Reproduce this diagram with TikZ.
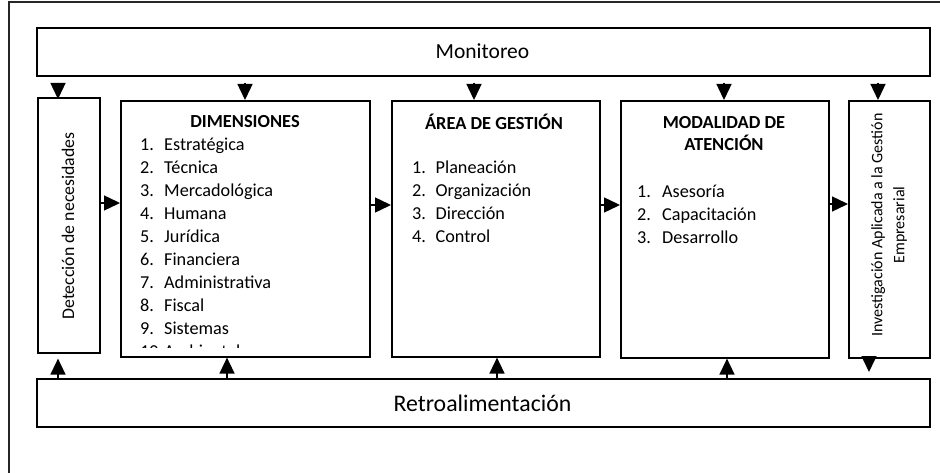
\documentclass[tikz,border=0pt]{standalone}
\usepackage{fontspec}
\setmainfont{Carlito}
\usetikzlibrary{arrows.meta}
\begin{document}
\begin{tikzpicture}[x=1pt,y=-1pt,
 box/.style={draw=black, line width=1.6pt, rectangle, inner sep=0pt, anchor=north west},
 arr/.style={line width=1.4pt, -{Triangle[length=16pt,width=15pt]}},
 item/.style={anchor=base west, inner sep=0pt, font=\fontsize{18.2}{22}\selectfont},
 head/.style={inner sep=0pt, font=\bfseries\fontsize{18.4}{22}\selectfont, align=center},
 plain/.style={inner sep=0pt}]
\useasboundingbox (0,0) rectangle (940,473);
\draw[line width=1.2pt, draw=black!85] (9,490) -- (9,2) -- (950,2);
% boxes
\node[box, minimum width=893pt, minimum height=48pt] (mon) at (36,27) {};
\node[box, minimum width=62pt, minimum height=255pt] (det) at (37,97) {};
\node[box, minimum width=249pt, minimum height=256pt] (dim) at (120,100) {};
\node[box, minimum width=208pt, minimum height=256pt] (area) at (391,100) {};
\node[box, minimum width=208pt, minimum height=257pt] (mod) at (620,100) {};
\node[box, minimum width=81pt, minimum height=257pt] (inv) at (848,100) {};
\node[box, minimum width=893pt, minimum height=48pt] (ret) at (36,378) {};
% texts
\node[plain, font=\fontsize{21.5}{24}\selectfont] (tmon) at (482.5,51) {Monitoreo};
\node[plain, font=\fontsize{23.8}{26}\selectfont] (tret) at (482.5,403) {Retroalimentación};
\node[plain, rotate=90, font=\fontsize{17.8}{20}\selectfont] (tdet) at (68,226) {Detección de necesidades};
\node[plain, rotate=90, align=center, font=\fontsize{16}{22}\selectfont] (tinv) at (889,225) {Investigación Aplicada a la Gestión\\Empresarial};
\node[head] (hdim) at (245,122) {DIMENSIONES};
\node[head] (harea) at (494,122) {ÁREA DE GESTIÓN};
\node[head] (hmod) at (724,134) {MODALIDAD DE\\ATENCIÓN};
\begin{scope}
\clip (120,100) rectangle (369,347);
\foreach \t [count=\i] in {Estratégica,Técnica,Mercadológica,Humana,Jurídica,Financiera,Administrativa,Fiscal,Sistemas,Ambiental}
  \node[item] (d\i) at (140,{151+22.9*(\i-1)}) {\makebox[24pt][l]{\i.}\t};
\end{scope}
\foreach \t [count=\i] in {Planeación,Organización,Dirección,Control}
  \node[item] (a\i) at (412,{174+22.8*(\i-1)}) {\makebox[23.5pt][l]{\i.}\t};
\foreach \t [count=\i] in {Asesoría,Capacitación,Desarrollo}
  \node[item] (m\i) at (637,{198+22.6*(\i-1)}) {\makebox[25pt][l]{\i.}\t};
% arrow positions
\coordinate (x1) at (58,0);
\coordinate (x2) at (245,0);
\coordinate (x3) at (474,0);
\coordinate (x4) at (724,0);
\coordinate (x5) at (878,0);
\coordinate (b2) at (227,0);
\coordinate (b3) at (497,0);
\coordinate (b4) at (727,0);
\coordinate (b5) at (869,0);
\coordinate (h1) at (0,203);
\coordinate (h2) at (0,205);
\coordinate (h3) at (0,205);
\coordinate (h4) at (0,204);
% top arrows
\draw[arr, shorten <=6pt] (mon.south -| x1) -- ([yshift=-2pt]det.north -| x1);
\draw[arr, shorten <=6pt] (mon.south -| x2) -- (dim.north -| x2);
\draw[arr, shorten <=6pt] (mon.south -| x3) -- (area.north -| x3);
\draw[arr, shorten <=6pt] (mon.south -| x4) -- (mod.north -| x4);
\draw[arr, shorten <=6pt] (mon.south -| x5) -- (inv.north -| x5);
% horizontal arrows
\draw[arr] (det.east |- h1) -- (dim.west |- h1);
\draw[arr] (dim.east |- h2) -- (area.west |- h2);
\draw[arr] (area.east |- h3) -- (mod.west |- h3);
\draw[arr] (mod.east |- h4) -- (inv.west |- h4);
% bottom arrows
\draw[arr, shorten >=5pt] (ret.north -| x1) -- (det.south -| x1);
\draw[arr] (ret.north -| b2) -- (dim.south -| b2);
\draw[arr] (ret.north -| b3) -- (area.south -| b3);
\draw[arr] (ret.north -| b4) -- (mod.south -| b4);
\draw[arr, shorten >=6pt] (inv.south -| b5) -- (ret.north -| b5);
\end{tikzpicture}
\end{document}
